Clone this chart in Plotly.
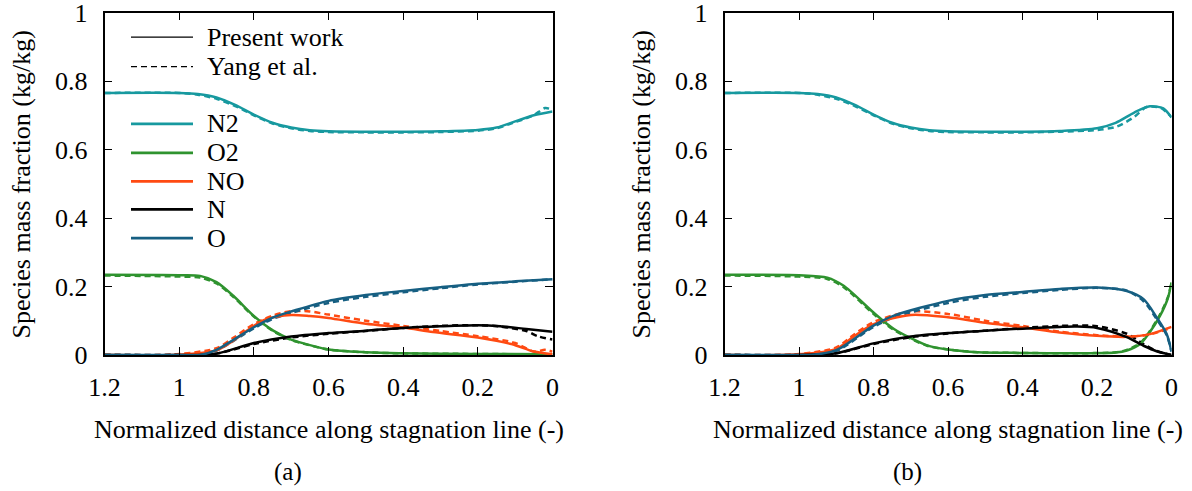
import plotly.graph_objects as go

# ---------------- data ----------------
species = ["N2", "O2", "NO", "N", "O"]
colors = {"N2": "#17999f", "O2": "#2f932f", "NO": "#ff4a12", "N": "#000000", "O": "#165f82"}

# Panel (a) - present work
xa = {
    "N2": [1.2, 1.0, 0.95, 0.9, 0.85, 0.8, 0.75, 0.7, 0.65, 0.6, 0.5, 0.4, 0.3, 0.2, 0.15, 0.1, 0.05, 0.0],
    "O2": [1.2, 1.0, 0.944, 0.9, 0.855, 0.8, 0.748, 0.7, 0.677, 0.6, 0.5, 0.41, 0.2, 0.0],
    "NO": [1.2, 1.0, 0.9, 0.855, 0.8, 0.766, 0.7, 0.65, 0.6, 0.5, 0.4, 0.32, 0.2, 0.11, 0.05, 0.0],
    "N":  [1.2, 1.0, 0.9, 0.8, 0.7, 0.6, 0.5, 0.4, 0.3, 0.2, 0.14, 0.07, 0.0],
    "O":  [1.2, 1.0, 0.944, 0.9, 0.8, 0.748, 0.694, 0.6, 0.5, 0.4, 0.3, 0.2, 0.1, 0.0],
}
ya = {
    "N2": [0.765, 0.765, 0.762, 0.752, 0.73, 0.702, 0.678, 0.664, 0.656, 0.653, 0.652, 0.652, 0.653, 0.657, 0.664, 0.682, 0.700, 0.711],
    "O2": [0.234, 0.233, 0.231, 0.213, 0.173, 0.114, 0.071, 0.045, 0.037, 0.016, 0.008, 0.005, 0.003, 0.002],
    "NO": [0.0, 0.001, 0.014, 0.042, 0.085, 0.105, 0.117, 0.114, 0.108, 0.091, 0.080, 0.067, 0.051, 0.032, 0.010, 0.002],
    "N":  [0.0, 0.0, 0.004, 0.035, 0.054, 0.064, 0.071, 0.079, 0.084, 0.087, 0.084, 0.076, 0.068],
    "O":  [0.0, 0.0, 0.0, 0.015, 0.081, 0.110, 0.129, 0.158, 0.175, 0.187, 0.198, 0.208, 0.215, 0.221],
}
# Panel (a) - Yang et al.
xay = {
    "N2": [1.2, 1.0, 0.95, 0.9, 0.85, 0.8, 0.75, 0.7, 0.65, 0.6, 0.5, 0.4, 0.3, 0.2, 0.15, 0.1, 0.05, 0.02, 0.0],
    "O2": [1.2, 1.0, 0.944, 0.9, 0.855, 0.8, 0.748, 0.7, 0.677, 0.6, 0.5, 0.41, 0.2, 0.0],
    "NO": [1.2, 1.0, 0.9, 0.855, 0.8, 0.75, 0.7, 0.65, 0.6, 0.5, 0.4, 0.3, 0.2, 0.1, 0.05, 0.02, 0.0],
    "N":  [1.2, 1.0, 0.9, 0.8, 0.7, 0.6, 0.5, 0.4, 0.3, 0.2, 0.14, 0.07, 0.04, 0.0],
    "O":  [1.2, 1.0, 0.944, 0.9, 0.8, 0.748, 0.694, 0.6, 0.5, 0.4, 0.3, 0.2, 0.1, 0.0],
}
yay = {
    "N2": [0.765, 0.765, 0.760, 0.748, 0.727, 0.700, 0.676, 0.662, 0.654, 0.651, 0.650, 0.650, 0.651, 0.655, 0.662, 0.680, 0.700, 0.721, 0.716],
    "O2": [0.232, 0.229, 0.226, 0.209, 0.170, 0.112, 0.070, 0.044, 0.036, 0.016, 0.008, 0.005, 0.003, 0.002],
    "NO": [0.0, 0.003, 0.020, 0.050, 0.090, 0.115, 0.128, 0.127, 0.118, 0.100, 0.085, 0.070, 0.055, 0.035, 0.010, 0.015, 0.010],
    "N":  [0.0, 0.0, 0.004, 0.032, 0.051, 0.062, 0.070, 0.079, 0.085, 0.087, 0.083, 0.070, 0.055, 0.045],
    "O":  [0.0, 0.0, 0.0, 0.013, 0.078, 0.106, 0.125, 0.152, 0.170, 0.183, 0.195, 0.206, 0.214, 0.221],
}

# Panel (b) - present work
xb = {
    "N2": [1.2, 1.0, 0.95, 0.9, 0.85, 0.8, 0.75, 0.7, 0.65, 0.6, 0.5, 0.4, 0.3, 0.2, 0.15, 0.1, 0.058, 0.022, 0.0],
    "O2": [1.2, 1.0, 0.924, 0.88, 0.8, 0.745, 0.656, 0.6, 0.52, 0.4, 0.255, 0.15, 0.12, 0.084, 0.058, 0.031, 0.01, 0.0],
    "NO": [1.2, 1.0, 0.9, 0.852, 0.8, 0.7, 0.6, 0.5, 0.4, 0.3, 0.2, 0.12, 0.058, 0.0],
    "N":  [1.2, 1.0, 0.9, 0.8, 0.7, 0.6, 0.5, 0.4, 0.3, 0.255, 0.2, 0.12, 0.075, 0.04, 0.0],
    "O":  [1.2, 1.0, 0.968, 0.9, 0.8, 0.745, 0.6, 0.5, 0.4, 0.3, 0.2, 0.12, 0.075, 0.04, 0.013, 0.0],
}
yb = {
    "N2": [0.765, 0.765, 0.762, 0.752, 0.73, 0.702, 0.678, 0.664, 0.656, 0.653, 0.652, 0.652, 0.654, 0.662, 0.678, 0.708, 0.726, 0.720, 0.693],
    "O2": [0.234, 0.233, 0.226, 0.202, 0.124, 0.076, 0.028, 0.016, 0.008, 0.006, 0.005, 0.007, 0.013, 0.032, 0.067, 0.114, 0.165, 0.212],
    "NO": [0.0, 0.002, 0.018, 0.055, 0.090, 0.117, 0.110, 0.094, 0.081, 0.066, 0.056, 0.053, 0.061, 0.082],
    "N":  [0.0, 0.0, 0.005, 0.034, 0.054, 0.064, 0.071, 0.077, 0.082, 0.083, 0.079, 0.052, 0.027, 0.011, 0.0],
    "O":  [0.0, 0.0, 0.0, 0.014, 0.086, 0.115, 0.158, 0.175, 0.184, 0.193, 0.197, 0.187, 0.163, 0.110, 0.061, 0.010],
}
# Panel (b) - Yang et al.
xby = {
    "N2": [1.2, 1.0, 0.95, 0.9, 0.85, 0.8, 0.75, 0.7, 0.65, 0.6, 0.5, 0.4, 0.3, 0.2, 0.147, 0.1, 0.067, 0.03, 0.0],
    "O2": [1.2, 1.0, 0.924, 0.88, 0.8, 0.745, 0.656, 0.6, 0.52, 0.4, 0.255, 0.15, 0.12, 0.084, 0.058, 0.031, 0.01, 0.0],
    "NO": [1.2, 1.0, 0.9, 0.852, 0.8, 0.7, 0.6, 0.5, 0.4, 0.3, 0.2, 0.12, 0.058, 0.0],
    "N":  [1.2, 1.0, 0.9, 0.8, 0.7, 0.6, 0.5, 0.4, 0.3, 0.255, 0.2, 0.12, 0.075, 0.04, 0.0],
    "O":  [1.2, 1.0, 0.968, 0.9, 0.8, 0.745, 0.6, 0.5, 0.4, 0.3, 0.2, 0.12, 0.075, 0.04, 0.013, 0.0],
}
yby = {
    "N2": [0.765, 0.765, 0.760, 0.748, 0.727, 0.700, 0.676, 0.662, 0.654, 0.651, 0.650, 0.650, 0.652, 0.657, 0.667, 0.695, 0.724, 0.722, 0.695],
    "O2": [0.232, 0.229, 0.222, 0.198, 0.120, 0.073, 0.027, 0.016, 0.008, 0.006, 0.005, 0.008, 0.015, 0.035, 0.070, 0.118, 0.168, 0.212],
    "NO": [0.0, 0.003, 0.022, 0.060, 0.096, 0.127, 0.120, 0.100, 0.085, 0.068, 0.058, 0.054, 0.060, 0.080],
    "N":  [0.0, 0.0, 0.005, 0.032, 0.052, 0.063, 0.071, 0.079, 0.085, 0.086, 0.084, 0.062, 0.032, 0.012, 0.0],
    "O":  [0.0, 0.0, 0.0, 0.012, 0.082, 0.110, 0.152, 0.170, 0.181, 0.190, 0.196, 0.188, 0.157, 0.105, 0.058, 0.010],
}

x_ticks = [1.2, 1.0, 0.8, 0.6, 0.4, 0.2, 0.0]
x_ticklabels = ["1.2", "1", "0.8", "0.6", "0.4", "0.2", "0"]
y_ticks = [0, 0.2, 0.4, 0.6, 0.8, 1.0]
y_ticklabels = ["0", "0.2", "0.4", "0.6", "0.8", "1"]
legend_species = ["N2", "O2", "NO", "N", "O"]
legend_styles = ["Present work", "Yang et al."]

FONT = "Liberation Serif, Times New Roman, serif"
FS = 26
W, H = 1192, 491

# ---------------- layout geometry ----------------
def fx(px):
    return px / W

def fy(py):
    return 1 - py / H

dom_xa = [fx(104.5), fx(552.5)]
dom_xb = [fx(724.5), fx(1171.5)]
dom_y = [fy(355), fy(12.5)]

fig = go.Figure()

panels = [
    ("x", "y", xay, yay, xa, ya),
    ("x2", "y2", xby, yby, xb, yb),
]
for xr, yr, xd, yd, xs, ys in panels:
    for sp in species:
        fig.add_trace(go.Scatter(x=xd[sp], y=yd[sp], mode="lines", xaxis=xr, yaxis=yr,
                                 line=dict(color=colors[sp], width=2.5, dash="6px,4px", shape="spline", smoothing=0.8),
                                 showlegend=False, hoverinfo="skip"))
    for sp in species:
        fig.add_trace(go.Scatter(x=xs[sp], y=ys[sp], mode="lines", xaxis=xr, yaxis=yr,
                                 line=dict(color=colors[sp], width=2.5, shape="spline", smoothing=0.8),
                                 showlegend=False, hoverinfo="skip"))

axis_common = dict(showline=True, linecolor="black", linewidth=1.6, mirror="ticks",
                   ticks="inside", ticklen=8, tickwidth=1.2, tickcolor="black",
                   showgrid=False, zeroline=False, automargin=False,
                   ticklabeloverflow="allow",
                   tickfont=dict(family=FONT, size=FS, color="black"))

fig.update_layout(
    width=W, height=H,
    margin=dict(l=0, r=0, t=0, b=0),
    paper_bgcolor="white", plot_bgcolor="white",
    showlegend=False,
    xaxis=dict(domain=dom_xa, range=[1.2, 0], tickvals=x_ticks, ticktext=x_ticklabels, anchor="y",
               ticklabelstandoff=8, **axis_common),
    yaxis=dict(domain=dom_y, range=[0, 1], tickvals=y_ticks, ticktext=y_ticklabels, anchor="x",
               ticklabelstandoff=10, **axis_common),
    xaxis2=dict(domain=dom_xb, range=[1.2, 0], tickvals=x_ticks, ticktext=x_ticklabels, anchor="y2",
                ticklabelstandoff=8, **axis_common),
    yaxis2=dict(domain=dom_y, range=[0, 1], tickvals=y_ticks, ticktext=y_ticklabels, anchor="x2",
                ticklabelstandoff=10, **axis_common),
)

annotations = []
shapes = []
for i, (d0, d1) in enumerate([dom_xa, dom_xb]):
    cx = (d0 + d1) / 2
    annotations.append(dict(text="Normalized distance along stagnation line (-)", x=cx, y=fy(429),
                            xref="paper", yref="paper", showarrow=False, xanchor="center", yanchor="middle",
                            font=dict(family=FONT, size=FS, color="black")))
    annotations.append(dict(text="Species mass fraction (kg/kg)", x=d0 - fx(84), y=fy(185),
                            xref="paper", yref="paper", showarrow=False, textangle=-90,
                            xanchor="center", yanchor="middle",
                            font=dict(family=FONT, size=FS, color="black")))
    annotations.append(dict(text=["(a)", "(b)"][i], x=cx - fx(41), y=fy(472),
                            xref="paper", yref="paper", showarrow=False, xanchor="center", yanchor="middle",
                            font=dict(family=FONT, size=FS - 1, color="black")))

# legend drawn inside panel (a)
lx0, lx1, ltx = (131 - 104.5) / 448, (193 - 104.5) / 448, (205 - 104.5) / 448
rows = [(legend_styles[0], "black", 1.4, "solid", 0.928),
        (legend_styles[1], "black", 1.4, "6px,4px", 0.842)]
for sp, yy in zip(legend_species, [0.675, 0.590, 0.507, 0.425, 0.341]):
    rows.append((sp, colors[sp], 2.8, "solid", yy))
for label, col, wd, dsh, yy in rows:
    shapes.append(dict(type="line", xref="x domain", yref="y domain", x0=lx0, x1=lx1, y0=yy, y1=yy,
                       line=dict(color=col, width=wd, dash=dsh)))
    annotations.append(dict(text=label, xref="x domain", yref="y domain", x=ltx, y=yy,
                            showarrow=False, xanchor="left", yanchor="middle",
                            font=dict(family=FONT, size=FS, color="black")))

fig.update_layout(annotations=annotations, shapes=shapes)
fig.write_html("out.html")
